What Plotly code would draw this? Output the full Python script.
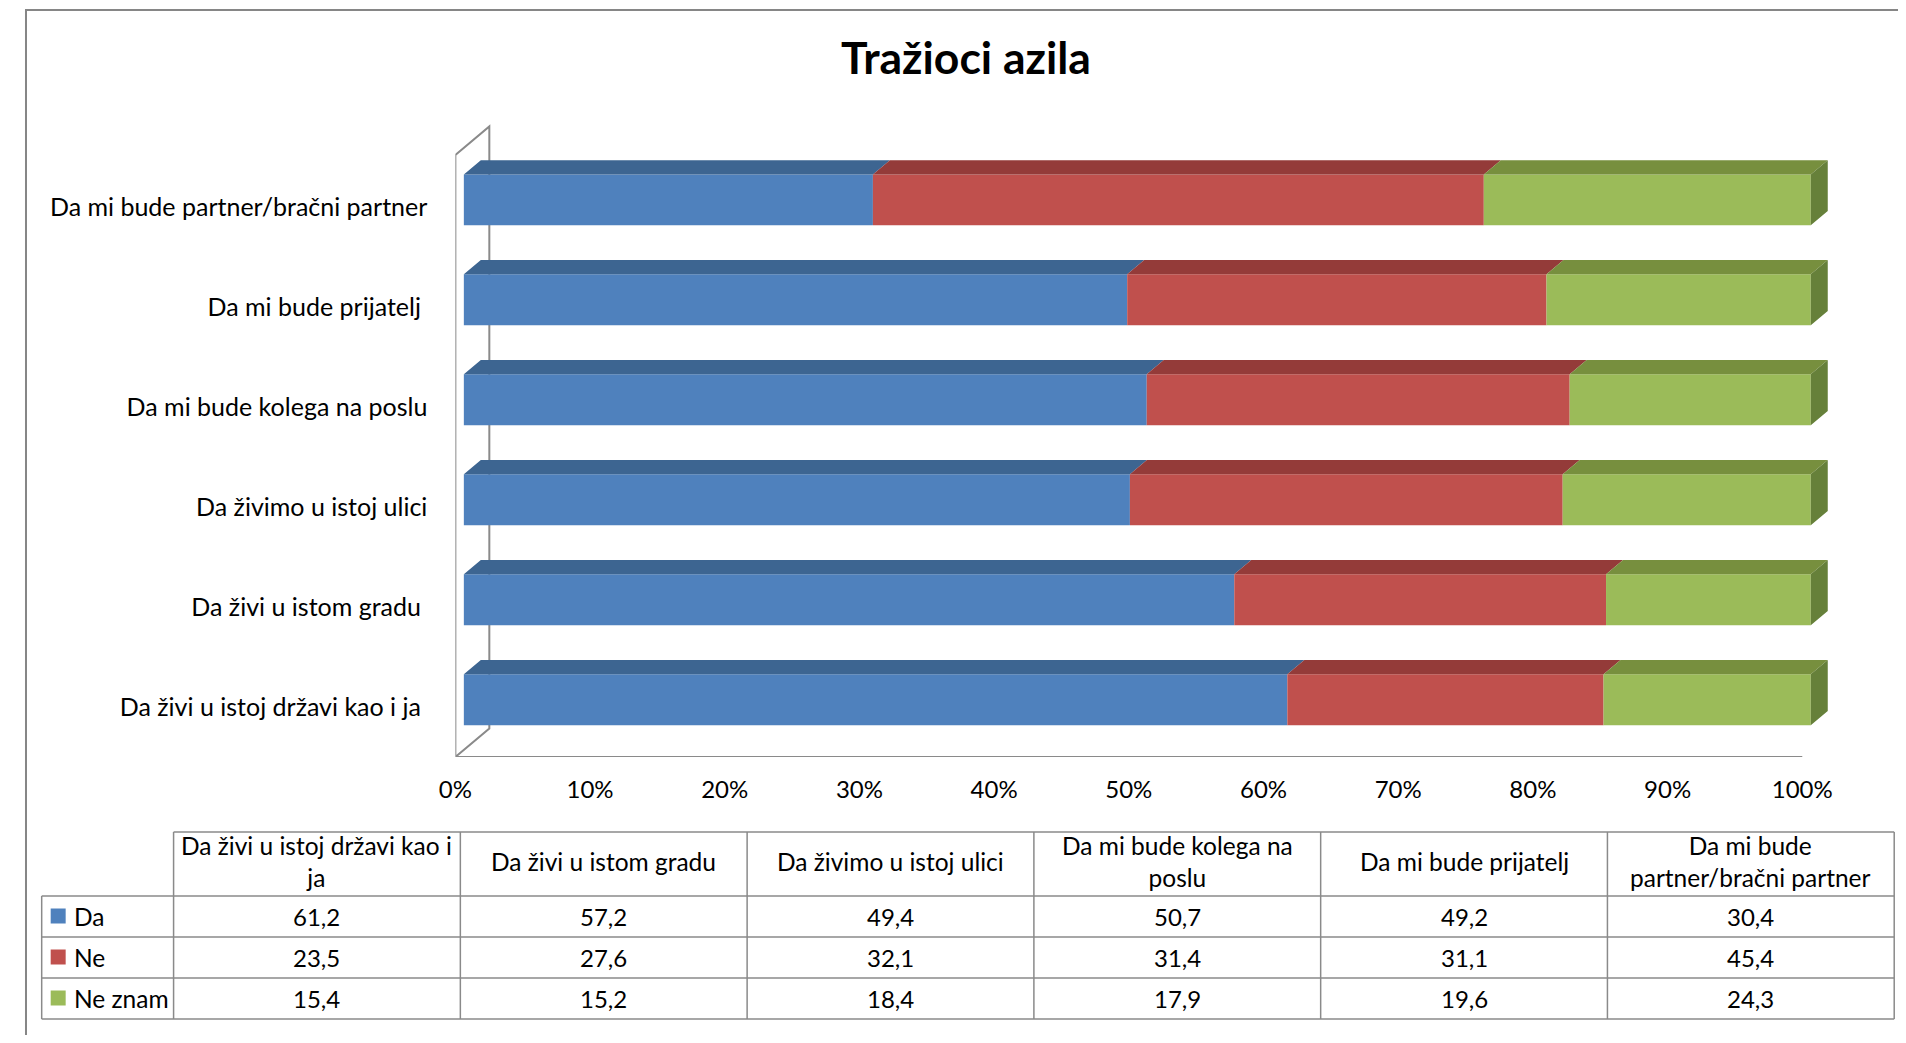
import plotly.graph_objects as go

# ---------------- data ----------------
categories = [
    "Da živi u istoj državi kao i ja",
    "Da živi u istom gradu",
    "Da živimo u istoj ulici",
    "Da mi bude kolega na poslu",
    "Da mi bude prijatelj",
    "Da mi bude partner/bračni partner",
]
axis_labels = [
    "Da živi u istoj državi kao i ja\u00a0",
    "Da živi u istom gradu\u00a0",
    "Da živimo u istoj ulici",
    "Da mi bude kolega na poslu",
    "Da mi bude prijatelj\u00a0",
    "Da mi bude partner/bračni partner",
]
header_labels = [
    "Da živi u istoj državi kao i<br>ja",
    "Da živi u istom gradu",
    "Da živimo u istoj ulici",
    "Da mi bude kolega na<br>poslu",
    "Da mi bude prijatelj",
    "Da mi bude<br>partner/bračni partner",
]
series_names = ["Da", "Ne", "Ne znam"]
da = [61.2, 57.2, 49.4, 50.7, 49.2, 30.4]
ne = [23.5, 27.6, 32.1, 31.4, 31.1, 45.4]
ne_znam = [15.4, 15.2, 18.4, 17.9, 19.6, 24.3]
x_ticks = [0, 10, 20, 30, 40, 50, 60, 70, 80, 90, 100]
x_tick_labels = ["0%", "10%", "20%", "30%", "40%", "50%", "60%", "70%", "80%", "90%", "100%"]

# ---------------- style ----------------
front_colors = ["#4F81BD", "#C0504D", "#9BBB59"]
top_colors = ["#3D6591", "#943B39", "#778F3E"]
side_color = "#66803A"
grid_color = "#8A8A8A"
FONT = "Lato"

# figure sized to fit inside the 1906x1043 window together with the page margin
PAGE_MARGIN = 8
W, H = 1906 - 2 * PAGE_MARGIN, 1043 - 2 * PAGE_MARGIN
# horizontal placement calibration of the rendered page
X_SHIFT, X_SCALE = 23.3, 0.9918

X0_PX, PX_PER_PCT, XMAX = 454, 13.48, 104
Y_BOTTOM_PX, PX_PER_CAT, YMIN, YMAX = 757, 100, -0.5, 6.0

DX = 34 / PX_PER_PCT   # floor depth in x units
DY = 28.5 / PX_PER_CAT  # floor depth in y units
FRONT, BACK = 0.25, 0.75
BAR_H = 0.51


def px(x):
    """target window pixel x -> paper fraction"""
    return (x - X_SHIFT) / X_SCALE / W


def py(y):
    """target window pixel y -> paper fraction"""
    return 1 - (y - PAGE_MARGIN) / H


series = [da, ne, ne_znam]
totals = [sum(v[i] for v in series) for i in range(len(categories))]

fig = go.Figure()
cum = [0.0] * len(categories)
for s, vals in enumerate(series):
    shares = [vals[i] / totals[i] * 100 for i in range(len(categories))]
    starts = cum[:]
    ends = [starts[i] + shares[i] for i in range(len(categories))]
    fig.add_trace(go.Bar(
        y=[i + FRONT * DY for i in range(len(categories))],
        x=shares,
        base=[b + FRONT * DX for b in starts],
        orientation="h",
        width=BAR_H,
        marker=dict(color=front_colors[s], line=dict(width=0)),
        name=series_names[s],
        showlegend=False,
        hoverinfo="skip",
    ))
    # top faces
    tx, ty = [], []
    for i in range(len(categories)):
        yt = i + BAR_H / 2
        tx += [starts[i] + FRONT * DX, ends[i] + FRONT * DX, ends[i] + BACK * DX, starts[i] + BACK * DX, starts[i] + FRONT * DX, None]
        ty += [yt + FRONT * DY, yt + FRONT * DY, yt + BACK * DY, yt + BACK * DY, yt + FRONT * DY, None]
    fig.add_trace(go.Scatter(x=tx, y=ty, mode="lines", fill="toself", fillcolor=top_colors[s],
                             line=dict(width=0, color=top_colors[s]), showlegend=False, hoverinfo="skip"))
    if s == len(series) - 1:
        sx, sy = [], []
        for i in range(len(categories)):
            yb, yt = i - BAR_H / 2, i + BAR_H / 2
            sx += [ends[i] + FRONT * DX, ends[i] + FRONT * DX, ends[i] + BACK * DX, ends[i] + BACK * DX, ends[i] + FRONT * DX, None]
            sy += [yb + FRONT * DY, yt + FRONT * DY, yt + BACK * DY, yb + BACK * DY, yb + FRONT * DY, None]
        fig.add_trace(go.Scatter(x=sx, y=sy, mode="lines", fill="toself", fillcolor=side_color,
                                 line=dict(width=0, color=side_color), showlegend=False, hoverinfo="skip"))
    cum = ends

shapes = []
# left wall + floor front line
wall_top = 5.52
shapes.append(dict(
    type="path", xref="x", yref="y",
    path=f"M 0,{YMIN} L 0,{wall_top} L {DX},{wall_top + DY} L {DX},{YMIN + DY} L 0,{YMIN} L 100,{YMIN}",
    line=dict(color=grid_color, width=2), layer="below"))

# outer border (top and left edges visible in the window)
bx = max(px(10), 1.0 / W)
shapes.append(dict(type="path", xref="paper", yref="paper",
                   path=f"M {bx},0 L {bx},{py(10)} L 1,{py(10)}",
                   line=dict(color="#868686", width=2)))

# ---------------- data table ----------------
col_left, col_w, legend_left = 172, 287, 40
head_top, head_bot = 832, 896
row_h = 41
n_cols = len(categories)
table_right = col_left + col_w * n_cols
row_bounds = [head_bot + row_h * r for r in range(len(series) + 1)]
line_style = dict(color=grid_color, width=1.5)
shapes.append(dict(type="line", xref="paper", yref="paper", x0=px(col_left), x1=px(table_right),
                   y0=py(head_top), y1=py(head_top), line=line_style))
for yb in row_bounds:
    shapes.append(dict(type="line", xref="paper", yref="paper", x0=px(legend_left), x1=px(table_right),
                       y0=py(yb), y1=py(yb), line=line_style))
shapes.append(dict(type="line", xref="paper", yref="paper", x0=px(legend_left), x1=px(legend_left),
                   y0=py(head_bot), y1=py(row_bounds[-1]), line=line_style))
for c in range(n_cols + 1):
    xc = col_left + col_w * c
    shapes.append(dict(type="line", xref="paper", yref="paper", x0=px(xc), x1=px(xc),
                       y0=py(head_top), y1=py(row_bounds[-1]), line=line_style))

annotations = []
hfont = dict(family=FONT, size=24.5, color="#000000")
tfont = dict(family=FONT, size=24, color="#000000")
for c in range(n_cols):
    annotations.append(dict(xref="paper", yref="paper", x=px(col_left + col_w * c + col_w / 2),
                            y=py((head_top + head_bot) / 2 - 3), text=header_labels[c], showarrow=False,
                            xanchor="center", yanchor="middle", font=hfont, align="center"))
for s, vals in enumerate(series):
    yc = (row_bounds[s] + row_bounds[s + 1]) / 2
    shapes.append(dict(type="rect", xref="paper", yref="paper", x0=px(49), x1=px(64),
                       y0=py(yc - 8), y1=py(yc + 7), fillcolor=front_colors[s], line=dict(width=0)))
    annotations.append(dict(xref="paper", yref="paper", x=px(70), y=py(yc), text=series_names[s],
                            showarrow=False, xanchor="left", yanchor="middle", font=hfont))
    for c in range(n_cols):
        annotations.append(dict(xref="paper", yref="paper", x=px(col_left + col_w * c + col_w / 2), y=py(yc),
                                text=f"{vals[c]:.1f}".replace(".", ","), showarrow=False,
                                xanchor="center", yanchor="middle", font=tfont))

# title
annotations.append(dict(xref="paper", yref="paper", x=px(965), y=py(57), text="<b>Tražioci azila</b>",
                        showarrow=False, xanchor="center", yanchor="middle",
                        font=dict(family=FONT, size=44.5, color="#000000")))

fig.update_layout(
    width=W, height=H,
    margin=dict(l=0, r=0, t=0, b=0),
    paper_bgcolor="white", plot_bgcolor="rgba(0,0,0,0)",
    barmode="overlay",
    showlegend=False,
    shapes=shapes,
    annotations=annotations,
    xaxis=dict(domain=[px(X0_PX), px(X0_PX + PX_PER_PCT * XMAX)], range=[0, XMAX],
               tickvals=x_ticks, ticktext=x_tick_labels, showgrid=False, zeroline=False, showline=False,
               ticks="outside", ticklen=11, tickcolor="rgba(0,0,0,0)",
               tickfont=dict(family=FONT, size=24, color="#000000"), fixedrange=True),
    yaxis=dict(domain=[py(Y_BOTTOM_PX), py(Y_BOTTOM_PX - PX_PER_CAT * (YMAX - YMIN))], range=[YMIN, YMAX],
               tickvals=list(range(len(categories))), ticktext=axis_labels, showgrid=False, zeroline=False,
               showline=False, ticks="outside", ticklen=22, tickcolor="rgba(0,0,0,0)",
               tickfont=dict(family=FONT, size=25, color="#000000"), fixedrange=True),
)

fig.write_html("out.html")
